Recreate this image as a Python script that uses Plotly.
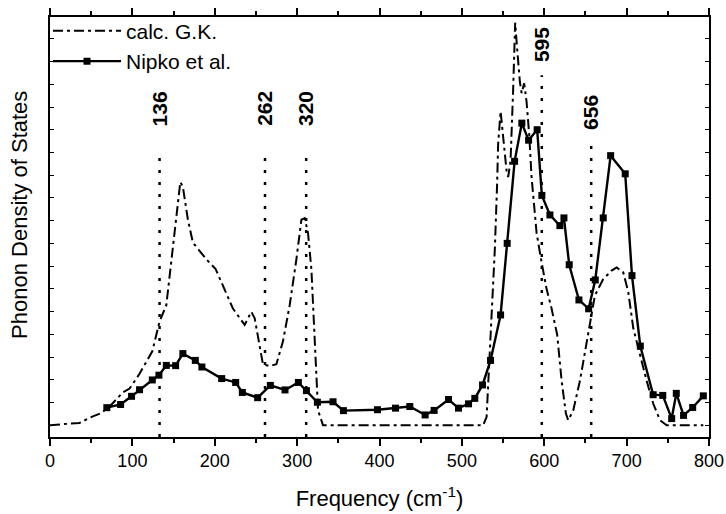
import plotly.graph_objects as go

# calc. G.K. (dash-dot curve)
calc_freq = [0, 19.7, 35.8, 52.0, 62.2, 74.7, 88.4, 96.6, 108.7, 124.2, 133.0, 141.2, 147.2, 152.5,
             158.2, 161.3, 167.4, 173.5, 179.6, 189.8, 201.1, 212.0, 222.1, 236.3, 244.4, 248.5,
             254.5, 258.5, 266.7, 274.8, 282.8, 291.0, 299.1, 305.2, 309.2, 313.2, 317.3, 321.4,
             325.4, 331.4, 525.8, 530.0, 534.0, 540.0, 542.8, 544.0, 547.0, 550.1, 554.2, 556.2,
             559.1, 562.3, 564.7, 567.1, 570.4, 572.5, 575.6, 578.5, 581.7, 584.6, 590.7, 596.8,
             602.8, 608.9, 615.7, 621.1, 626.3, 629.1, 635.2, 643.3, 651.4, 655.5, 661.5, 671.6,
             681.8, 687.9, 695.9, 702.0, 708.1, 716.2, 724.3, 732.4, 740.5, 748.6, 793.1]
calc_dos = [0, 0.04, 0.10, 0.39, 0.53, 0.91, 1.44, 1.61, 2.26, 3.25, 4.56, 5.28, 7.16, 9.04,
            10.70, 10.49, 9.04, 8.03, 7.74, 7.30, 6.87, 6.00, 5.13, 4.41, 4.99, 4.70,
            3.40, 2.68, 2.60, 2.68, 3.69, 5.28, 7.30, 9.04, 9.11, 8.46, 6.87, 3.40,
            0.65, 0, 0, 0.36, 3.11, 7.74, 10.63, 12.36, 13.81, 12.66, 11.21, 10.92,
            11.64, 14.82, 17.71, 16.56, 15.11, 14.61, 15.04, 14.24, 12.80, 10.92, 8.46, 7.16,
            6.00, 5.13, 3.98, 1.95, 0.51, 0.22, 0.65, 1.95, 3.69, 4.56, 5.71, 6.43,
            6.80, 6.94, 6.72, 5.86, 4.26, 3.11, 1.95, 0.94, 0.22, 0, 0]

# Nipko et al. (line + square markers)
nipko_freq = [69.0, 85.7, 99.0, 108.7, 124.2, 132.2, 141.2, 152.5, 161.3, 176.4, 184.4, 208.4,
              225.4, 233.5, 252.1, 267.5, 285.3, 301.5, 311.3, 324.6, 343.6, 356.2, 397.5, 419.4,
              436.8, 455.4, 466.3, 483.8, 495.9, 508.1, 515.7, 525.1, 534.8, 547.0, 555.0, 564.0,
              572.8, 581.0, 591.4, 597.1, 606.9, 619.0, 623.9, 630.3, 642.1, 653.9, 661.9, 671.6,
              680.6, 698.3, 706.5, 716.6, 732.2, 743.9, 754.7, 760.3, 769.1, 780.2, 793.1]
nipko_dos = [0.77, 0.91, 1.27, 1.56, 1.99, 2.20, 2.63, 2.62, 3.15, 2.85, 2.56, 2.05,
             1.88, 1.44, 1.21, 1.75, 1.55, 1.88, 1.52, 1.01, 1.03, 0.64, 0.68, 0.75,
             0.82, 0.45, 0.65, 1.13, 0.75, 0.94, 1.18, 1.77, 2.85, 4.85, 8.00, 11.61,
             13.29, 12.54, 13.00, 10.11, 9.25, 8.78, 9.12, 7.06, 5.51, 5.12, 6.39, 9.12,
             11.86, 11.06, 6.58, 3.48, 1.34, 1.31, 0.29, 1.40, 0.43, 0.78, 1.29]

# marked frequencies
mark_pos = [133, 261, 311, 597, 657]
mark_labels = ["136", "262", "320", "595", "656"]
mark_tops = [12.15, 12.15, 12.15, 15.4, 12.36]
label_bottoms = [13.06, 13.06, 13.06, 15.9, 12.89]

x_ticks = [0, 100, 200, 300, 400, 500, 600, 700, 800]

Y_MIN, Y_MAX = -0.52, 17.96
FONT = "Liberation Sans"

fig = go.Figure()

fig.add_trace(go.Scatter(
    x=calc_freq, y=calc_dos, mode="lines", name="calc. G.K.",
    line=dict(color="black", width=2, dash="10px,4px,3px,4px"),
))
fig.add_trace(go.Scatter(
    x=nipko_freq, y=nipko_dos, mode="lines+markers", name="Nipko et al.",
    line=dict(color="black", width=2.4),
    marker=dict(symbol="square", size=7, color="black"),
))

for xp, top in zip(mark_pos, mark_tops):
    fig.add_trace(go.Scatter(
        x=[xp, xp], y=[Y_MIN, top], mode="lines", showlegend=False, hoverinfo="skip",
        line=dict(color="black", width=2.5, dash="3px,9px"),
    ))

for xp, lab, yb in zip(mark_pos, mark_labels, label_bottoms):
    fig.add_annotation(x=xp, y=yb, text="<b>%s</b>" % lab, textangle=-90,
                       showarrow=False, xanchor="center", yanchor="bottom",
                       font=dict(family=FONT, size=21, color="black"))

# y-axis title as a rotated annotation (positioned like the reference)
fig.add_annotation(xref="paper", yref="paper", x=-0.046, y=0.528,
                   text="Phonon Density of States", textangle=-90, showarrow=False,
                   xanchor="center", yanchor="middle",
                   font=dict(family=FONT, size=22, color="black"))

fig.update_layout(
    width=726, height=514,
    margin=dict(l=50, r=17, t=11, b=77),
    paper_bgcolor="white", plot_bgcolor="white",
    font=dict(family=FONT, size=18, color="black"),
    showlegend=True,
    legend=dict(x=-0.003, y=1.015, xanchor="left", yanchor="top", bgcolor="rgba(0,0,0,0)",
                font=dict(size=21), itemwidth=68, tracegroupgap=0),
)
fig.update_xaxes(
    range=[0, 800], tickvals=x_ticks, ticktext=[str(v) for v in x_ticks],
    showline=True, linecolor="black", linewidth=1.5, mirror="ticks",
    ticks="outside", ticklen=7, tickwidth=1.5, tickcolor="black",
    minor=dict(ticks="outside", ticklen=4, dtick=50, tickcolor="black", tickwidth=1.5),
    showgrid=False, zeroline=False, automargin=False,
    tickfont=dict(size=18),
    title=dict(text="Frequency (cm<sup>-1</sup>)", font=dict(size=22), standoff=20),
)
fig.update_yaxes(
    range=[Y_MIN, Y_MAX], dtick=1, tick0=0, showticklabels=False,
    showline=True, linecolor="black", linewidth=1.5, mirror="ticks",
    ticks="inside", ticklen=4, tickwidth=1.2, tickcolor="black",
    showgrid=False, zeroline=False, automargin=False,
)

fig.write_html("out.html", config={"displayModeBar": False},
               post_script="document.body.style.margin='0';document.body.style.overflow='hidden';")
